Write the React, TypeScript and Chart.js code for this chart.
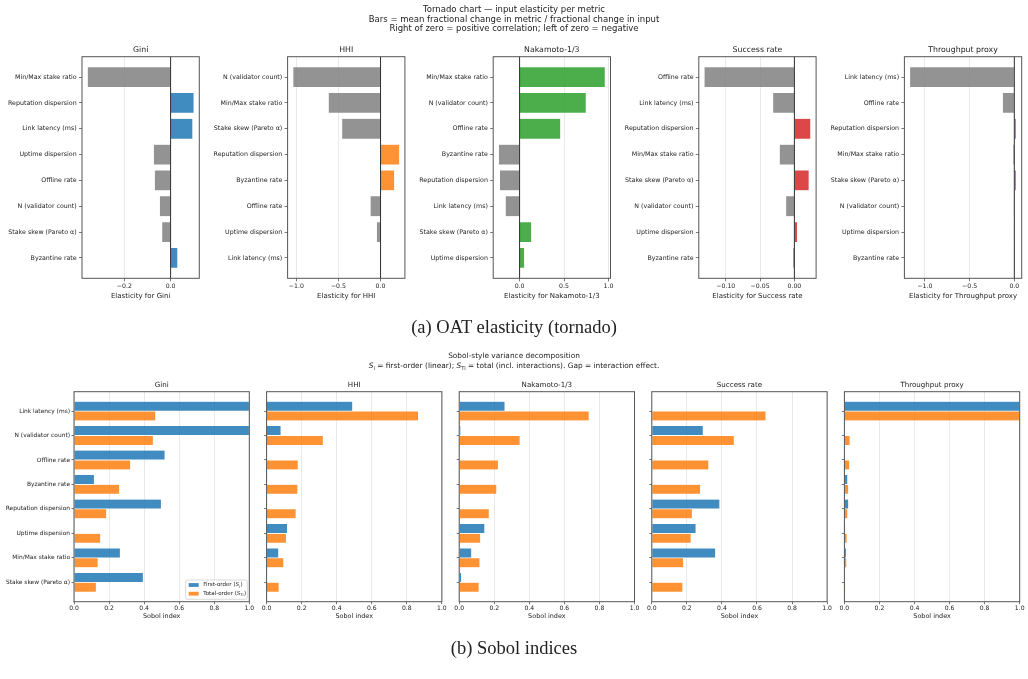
import React, { useEffect, useRef } from "react";
import { Chart, registerables } from "chart.js";

Chart.register(...registerables);

// ---------- OAT elasticity (tornado), each metric's inputs sorted by |elasticity| ----------
const GINI_INPUTS = ["Min/Max stake ratio", "Reputation dispersion", "Link latency (ms)", "Uptime dispersion", "Offline rate", "N (validator count)", "Stake skew (Pareto α)", "Byzantine rate"];
const GINI_ELASTICITY = [-0.36, 0.101, 0.096, -0.074, -0.07, -0.048, -0.038, 0.031];
const GINI_TICKS = [-0.2, 0.0];

const HHI_INPUTS = ["N (validator count)", "Min/Max stake ratio", "Stake skew (Pareto α)", "Reputation dispersion", "Byzantine rate", "Offline rate", "Uptime dispersion", "Link latency (ms)"];
const HHI_ELASTICITY = [-1.04, -0.62, -0.46, 0.226, 0.167, -0.123, -0.048, -0.007];
const HHI_TICKS = [-1.0, -0.5, 0.0];

const NAKAMOTO_INPUTS = ["Min/Max stake ratio", "N (validator count)", "Offline rate", "Byzantine rate", "Reputation dispersion", "Link latency (ms)", "Stake skew (Pareto α)", "Uptime dispersion"];
const NAKAMOTO_ELASTICITY = [0.963, 0.749, 0.462, -0.237, -0.225, -0.161, 0.135, 0.056];
const NAKAMOTO_TICKS = [0.0, 0.5, 1.0];

const SUCCESS_INPUTS = ["Offline rate", "Link latency (ms)", "Reputation dispersion", "Min/Max stake ratio", "Stake skew (Pareto α)", "N (validator count)", "Uptime dispersion", "Byzantine rate"];
const SUCCESS_ELASTICITY = [-0.1316, -0.0315, 0.0239, -0.0219, 0.0214, -0.0126, 0.0044, -0.0023];
const SUCCESS_TICKS = [-0.1, -0.05, 0.0];

const THROUGHPUT_INPUTS = ["Link latency (ms)", "Offline rate", "Reputation dispersion", "Min/Max stake ratio", "Stake skew (Pareto α)", "N (validator count)", "Uptime dispersion", "Byzantine rate"];
const THROUGHPUT_ELASTICITY = [-1.169, -0.132, 0.023, -0.016, 0.023, -0.008, 0.0005, 0.0];
const THROUGHPUT_TICKS = [-1.0, -0.5, 0.0];

// ---------- Sobol indices (shared input order) ----------
const SOBOL_INPUTS = ["Link latency (ms)", "N (validator count)", "Offline rate", "Byzantine rate", "Reputation dispersion", "Uptime dispersion", "Min/Max stake ratio", "Stake skew (Pareto α)"];
const GINI_S1 = [1.0, 1.0, 0.519, 0.116, 0.498, 0.0, 0.264, 0.395];
const GINI_ST = [0.466, 0.452, 0.323, 0.26, 0.186, 0.152, 0.137, 0.127];
const HHI_S1 = [0.491, 0.082, 0.0, 0.0, 0.0, 0.119, 0.069, 0.0];
const HHI_ST = [0.866, 0.323, 0.18, 0.178, 0.168, 0.113, 0.098, 0.071];
const NAKAMOTO_S1 = [0.261, 0.009, 0.0, 0.0, 0.0, 0.146, 0.071, 0.013];
const NAKAMOTO_ST = [0.741, 0.347, 0.223, 0.214, 0.171, 0.122, 0.118, 0.113];
const SUCCESS_S1 = [0.0, 0.293, 0.0, 0.0, 0.388, 0.252, 0.364, 0.0];
const SUCCESS_ST = [0.651, 0.47, 0.325, 0.278, 0.231, 0.224, 0.181, 0.177];
const THROUGHPUT_S1 = [1.0, 0.0, 0.0, 0.019, 0.024, 0.006, 0.011, 0.0];
const THROUGHPUT_ST = [1.0, 0.032, 0.03, 0.024, 0.019, 0.015, 0.013, 0.006];
const SOBOL_TICKS = [0.0, 0.2, 0.4, 0.6, 0.8, 1.0];

const METRIC_NAMES = ["Gini", "HHI", "Nakamoto-1/3", "Success rate", "Throughput proxy"];
const METRIC_COLORS = ["#1f77b4", "#ff7f0e", "#2ca02c", "#d62728", "#9467bd"];

// ---------- styling / layout ----------
const FONT = '"DejaVu Sans", "Noto Sans", sans-serif';
const SERIF = '"Liberation Serif", "DejaVu Serif", serif';
const INK = "#222";
const SPINE = "#555";
const GRID = "rgba(176,176,176,0.35)";
const EDGE = "rgba(255,255,255,0.8)";
const EDGE_W = 0.4;
const PAGE_W = 1028;
const PAGE_H = 679;

const TOP = { left0: 82, step: 205.6, width: 117.3, y0: 56.7, y1: 278.3, yw: 80, xh: 21.6 };
const BOT = { left0: 74, step: 192.6, width: 175.3, y0: 391.7, y1: 601.7, yw: 70, xh: 18.9 };

function rgba(hex: string, a: number) {
  const n = parseInt(hex.slice(1), 16);
  return `rgba(${(n >> 16) & 255},${(n >> 8) & 255},${n & 255},${a})`;
}

function fmt(v: number, d: number) {
  const s = Math.abs(v) < 1e-12 ? (0).toFixed(d) : v.toFixed(d);
  return s.replace("-", "\u2212");
}

const panelTitle = (text: string, size: number, gap: number) => ({
  id: "panelTitle",
  afterDraw(chart: any) {
    const { ctx, chartArea: a } = chart;
    ctx.save();
    ctx.font = `${size}px ${FONT}`;
    ctx.fillStyle = INK;
    ctx.textAlign = "center";
    ctx.textBaseline = "middle";
    ctx.fillText(text, (a.left + a.right) / 2, a.top - gap);
    ctx.restore();
  },
});

const frame = (zeroLine: boolean) => ({
  id: "frame",
  afterDatasetsDraw(chart: any) {
    if (!zeroLine) return;
    const { ctx, chartArea: a } = chart;
    const x = chart.scales.x.getPixelForValue(0);
    ctx.save();
    ctx.strokeStyle = "#1a1a1a";
    ctx.lineWidth = 0.9;
    ctx.beginPath();
    ctx.moveTo(x, a.top);
    ctx.lineTo(x, a.bottom);
    ctx.stroke();
    ctx.restore();
  },
  afterDraw(chart: any) {
    const { ctx, chartArea: a } = chart;
    ctx.save();
    ctx.strokeStyle = SPINE;
    ctx.lineWidth = 1;
    ctx.strokeRect(a.left, a.top, a.right - a.left, a.bottom - a.top);
    ctx.restore();
  },
});

const sobolLegend = {
  id: "sobolLegend",
  afterDraw(chart: any) {
    const { ctx, chartArea: a } = chart;
    const w = 61.6;
    const h = 19.3;
    const x0 = a.right - 2 - w;
    const y0 = a.bottom - 2.4 - h;
    ctx.save();
    ctx.beginPath();
    const r = 1.5;
    ctx.moveTo(x0 + r, y0);
    ctx.arcTo(x0 + w, y0, x0 + w, y0 + h, r);
    ctx.arcTo(x0 + w, y0 + h, x0, y0 + h, r);
    ctx.arcTo(x0, y0 + h, x0, y0, r);
    ctx.arcTo(x0, y0, x0 + w, y0, r);
    ctx.closePath();
    ctx.fillStyle = "rgba(255,255,255,0.8)";
    ctx.fill();
    ctx.strokeStyle = "#cfcfcf";
    ctx.lineWidth = 0.8;
    ctx.stroke();
    const rows = [
      { color: rgba(METRIC_COLORS[0], 0.85), text: "First-order (", sub: "i" },
      { color: rgba(METRIC_COLORS[1], 0.85), text: "Total-order (", sub: "Ti" },
    ];
    const fs = 5.5;
    rows.forEach((row, k) => {
      const cy = y0 + 5 + k * 8.7;
      ctx.fillStyle = row.color;
      ctx.fillRect(x0 + 3, cy - 1.9, 10, 3.8);
      ctx.fillStyle = INK;
      ctx.textAlign = "left";
      ctx.textBaseline = "middle";
      let tx = x0 + 17.6;
      ctx.font = `${fs}px ${FONT}`;
      ctx.fillText(row.text, tx, cy);
      tx += ctx.measureText(row.text).width;
      ctx.font = `italic ${fs}px ${FONT}`;
      ctx.fillText("S", tx, cy);
      tx += ctx.measureText("S").width;
      ctx.font = `${fs * 0.7}px ${FONT}`;
      ctx.fillText(row.sub, tx, cy + 1.5);
      tx += ctx.measureText(row.sub).width + 0.3;
      ctx.font = `${fs}px ${FONT}`;
      ctx.fillText(")", tx, cy);
    });
    ctx.restore();
  },
};

function tornadoConfig(i: number, inputs: string[], values: number[], ticks: number[], decimals: number) {
  const left = TOP.left0 + i * TOP.step;
  const right = left + TOP.width;
  const lo = Math.min(0, ...values);
  const hi = Math.max(0, ...values);
  const pad = (hi - lo) * 0.05;
  return {
    type: "bar",
    data: {
      datasets: [
        {
          data: values.map((v, k) => ({ x: v, y: k })),
          backgroundColor: values.map((v) => (v > 0 ? rgba(METRIC_COLORS[i], 0.85) : "rgba(128,128,128,0.85)")),
          borderColor: EDGE,
          borderWidth: EDGE_W,
          barPercentage: 1,
          categoryPercentage: 0.8,
        },
      ],
    },
    options: {
      indexAxis: "y",
      responsive: false,
      animation: false,
      events: [],
      layout: { padding: { left: left - TOP.yw, right: PAGE_W - right, top: TOP.y0, bottom: PAGE_H - TOP.y1 - TOP.xh } },
      plugins: { legend: { display: false }, tooltip: { enabled: false } },
      scales: {
        x: {
          type: "linear",
          min: lo - pad,
          max: hi + pad,
          afterBuildTicks: (ax: any) => { ax.ticks = ticks.map((v) => ({ value: v })); },
          afterFit: (ax: any) => { ax.height = TOP.xh; },
          ticks: { font: { family: FONT, size: 6.2 }, color: INK, padding: 1, maxRotation: 0, autoSkip: false, callback: (v: any) => fmt(Number(v), decimals) },
          grid: { color: GRID, lineWidth: 0.8, drawTicks: true, tickLength: 3, tickColor: SPINE, tickWidth: 0.8 },
          border: { display: false },
          title: { display: true, text: `Elasticity for ${METRIC_NAMES[i]}`, font: { family: FONT, size: 7 }, color: INK, padding: 0 },
        },
        y: {
          type: "linear",
          offset: false,
          min: -0.79,
          max: 7.79,
          reverse: true,
          afterBuildTicks: (ax: any) => { ax.ticks = inputs.map((_, k) => ({ value: k })); },
          afterFit: (ax: any) => { ax.width = TOP.yw; },
          ticks: { font: { family: FONT, size: 6.3 }, color: INK, padding: 2.3, autoSkip: false, callback: (v: any) => inputs[Number(v)] },
          grid: { offset: false, drawOnChartArea: false, drawTicks: true, tickLength: 3, tickColor: SPINE, tickWidth: 0.8 },
          border: { display: false },
        },
      },
    },
    plugins: [panelTitle(METRIC_NAMES[i], 7.8, 7.2), frame(true)],
  };
}

function sobolConfig(i: number, s1: number[], st: number[]) {
  const left = BOT.left0 + i * BOT.step;
  const right = left + BOT.width;
  const extra: any[] = i === 0 ? [sobolLegend] : [];
  return {
    type: "bar",
    data: {
      datasets: [
        {
          label: "First-order",
          data: s1.map((v, k) => ({ x: v, y: k })),
          backgroundColor: rgba(METRIC_COLORS[0], 0.85),
          borderColor: EDGE,
          borderWidth: EDGE_W,
          barPercentage: 1,
          categoryPercentage: 0.8,
        },
        {
          label: "Total-order",
          data: st.map((v, k) => ({ x: v, y: k })),
          backgroundColor: rgba(METRIC_COLORS[1], 0.85),
          borderColor: EDGE,
          borderWidth: EDGE_W,
          barPercentage: 1,
          categoryPercentage: 0.8,
        },
      ],
    },
    options: {
      indexAxis: "y",
      responsive: false,
      animation: false,
      events: [],
      layout: { padding: { left: left - BOT.yw, right: PAGE_W - right, top: BOT.y0, bottom: PAGE_H - BOT.y1 - BOT.xh } },
      plugins: { legend: { display: false }, tooltip: { enabled: false } },
      scales: {
        x: {
          type: "linear",
          min: 0,
          max: 1,
          afterBuildTicks: (ax: any) => { ax.ticks = SOBOL_TICKS.map((v) => ({ value: v })); },
          afterFit: (ax: any) => { ax.height = BOT.xh; },
          ticks: { font: { family: FONT, size: 6.1 }, color: INK, padding: 0.5, maxRotation: 0, autoSkip: false, callback: (v: any) => fmt(Number(v), 1) },
          grid: { color: GRID, lineWidth: 0.8, drawTicks: true, tickLength: 2.5, tickColor: SPINE, tickWidth: 0.8 },
          border: { display: false },
          title: { display: true, text: "Sobol index", font: { family: FONT, size: 6.45 }, color: INK, padding: 0 },
        },
        y: {
          type: "linear",
          offset: false,
          min: -0.79,
          max: 7.79,
          reverse: true,
          afterBuildTicks: (ax: any) => { ax.ticks = SOBOL_INPUTS.map((_, k) => ({ value: k })); },
          afterFit: (ax: any) => { ax.width = BOT.yw; },
          ticks: { font: { family: FONT, size: 5.9 }, color: INK, padding: 1.5, autoSkip: false, callback: (v: any) => (i === 0 ? SOBOL_INPUTS[Number(v)] : "") },
          grid: { offset: false, drawOnChartArea: false, drawTicks: true, tickLength: 2.5, tickColor: SPINE, tickWidth: 0.8 },
          border: { display: false },
        },
      },
    },
    plugins: [panelTitle(METRIC_NAMES[i], 7.1, 6.7), frame(false), ...extra],
  };
}

const CHART_FACTORIES: Array<() => any> = [
  () => tornadoConfig(0, GINI_INPUTS, GINI_ELASTICITY, GINI_TICKS, 1),
  () => tornadoConfig(1, HHI_INPUTS, HHI_ELASTICITY, HHI_TICKS, 1),
  () => tornadoConfig(2, NAKAMOTO_INPUTS, NAKAMOTO_ELASTICITY, NAKAMOTO_TICKS, 1),
  () => tornadoConfig(3, SUCCESS_INPUTS, SUCCESS_ELASTICITY, SUCCESS_TICKS, 2),
  () => tornadoConfig(4, THROUGHPUT_INPUTS, THROUGHPUT_ELASTICITY, THROUGHPUT_TICKS, 1),
  () => sobolConfig(0, GINI_S1, GINI_ST),
  () => sobolConfig(1, HHI_S1, HHI_ST),
  () => sobolConfig(2, NAKAMOTO_S1, NAKAMOTO_ST),
  () => sobolConfig(3, SUCCESS_S1, SUCCESS_ST),
  () => sobolConfig(4, THROUGHPUT_S1, THROUGHPUT_ST),
];

function ChartLayer({ make }: { make: () => any }) {
  const ref = useRef<HTMLCanvasElement>(null);
  useEffect(() => {
    if (!ref.current) return;
    const chart = new Chart(ref.current, make());
    return () => chart.destroy();
  }, [make]);
  return (
    <canvas
      ref={ref}
      width={PAGE_W}
      height={PAGE_H}
      style={{ position: "absolute", left: 0, top: 0, width: PAGE_W, height: PAGE_H }}
    />
  );
}

function TextLine({ y, size, family, children }: { y: number; size: number; family: string; children: React.ReactNode }) {
  const lh = size * 2;
  return (
    <div
      style={{
        position: "absolute",
        left: 0,
        width: PAGE_W,
        top: y - lh / 2,
        height: lh,
        lineHeight: `${lh}px`,
        fontSize: size,
        fontFamily: family,
        color: INK,
        textAlign: "center",
        whiteSpace: "nowrap",
      }}
    >
      {children}
    </div>
  );
}

const subStyle: React.CSSProperties = { fontSize: "70%", verticalAlign: "-0.3em", lineHeight: 0 };

export default function App() {
  return (
    <div style={{ position: "absolute", left: 0, top: 0, width: PAGE_W, height: PAGE_H, background: "#fff", overflow: "hidden" }}>
      {CHART_FACTORIES.map((make, k) => (
        <ChartLayer key={k} make={make} />
      ))}
      <TextLine y={9.3} size={8.5} family={FONT}>Tornado chart — input elasticity per metric</TextLine>
      <TextLine y={19.0} size={8.5} family={FONT}>Bars = mean fractional change in metric / fractional change in input</TextLine>
      <TextLine y={28.7} size={8.5} family={FONT}>Right of zero = positive correlation; left of zero = negative</TextLine>
      <TextLine y={327} size={18.5} family={SERIF}>(a) OAT elasticity (tornado)</TextLine>
      <TextLine y={356.7} size={7.4} family={FONT}>Sobol-style variance decomposition</TextLine>
      <TextLine y={366.2} size={7.4} family={FONT}>
        <i>S</i><sub style={subStyle}>i</sub> = first-order (linear); <i>S</i><sub style={subStyle}>Ti</sub> = total (incl. interactions). Gap = interaction effect.
      </TextLine>
      <TextLine y={648} size={18.5} family={SERIF}>(b) Sobol indices</TextLine>
    </div>
  );
}
